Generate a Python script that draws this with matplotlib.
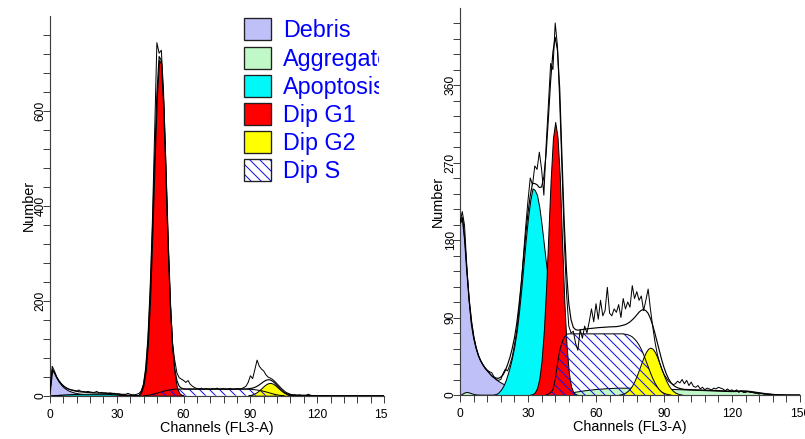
import numpy as np
import matplotlib.pyplot as plt
from matplotlib.patches import Patch
from matplotlib.legend_handler import HandlerTuple
from matplotlib.transforms import Bbox, TransformedBbox

plt.rcParams['font.family'] = ['Liberation Sans', 'DejaVu Sans']
plt.rcParams['hatch.linewidth'] = 0.6

# channel grid shared by both histograms
CHANNELS = np.arange(151)

# ---- left sample ----
left_data = [
    5, 62, 52, 40, 32, 26, 21, 17, 15, 13,
    12, 11, 10, 12, 9, 9, 8, 9, 8, 7,
    7, 9, 6, 7, 6, 6, 5, 6, 5, 5,
    4, 4, 3, 3, 3, 5, 3, 2, 2, 3,
    5, 10, 25, 60, 125, 230, 370, 560, 744, 722,
    728, 640, 490, 330, 200, 110, 75, 48, 38, 35,
    32, 28, 32, 24, 20, 17, 15, 14, 16, 13,
    15, 14, 13, 15, 14, 16, 13, 14, 15, 13,
    14, 15, 13, 14, 15, 14, 15, 17, 20, 28,
    42, 36, 55, 75, 62, 56, 52, 44, 39, 37,
    34, 30, 25, 20, 15, 11, 7, 5, 3, 2,
    2, 1, 2, 1, 1, 1, 3, 1, 0, 0,
] + [0] * 31

left_debris_start = 0
left_debris = [12, 55, 47, 37, 29, 23, 18, 14.5, 11.5, 9.5,
               8, 6.5, 5.5, 4.5, 4, 3.5, 3, 2.6, 2.3, 2,
               1.8, 1.7, 1.6, 1.5, 1.4, 1.3, 1.2, 1.1, 1, 0.9,
               0.8, 0.7, 0.6, 0.5, 0.4, 0.3, 0.3, 0.2, 0.1, 0.1, 0]
left_aggr_start = 95
left_aggr = [0, 0.2, 0.4, 0.6, 0.8, 0.9, 1, 1, 1, 1, 0.9, 0.9, 0.8, 0.8, 0.7,
             0.7, 0.6, 0.6, 0.5, 0.5, 0.5, 0.4, 0.4, 0.3, 0.3, 0.2, 0.2, 0.1, 0.1, 0]
left_apop_start = 0
left_apop = [0, 0.5, 1, 1.5, 2, 2.3, 2.6, 2.9, 3.1, 3.3,
             3.5, 3.6, 3.7, 3.8, 3.9, 3.9, 4, 4, 4, 4,
             4, 4, 4, 3.9, 3.9, 3.8, 3.8, 3.6, 3.3, 3,
             2.7, 2.3, 1.9, 1.5, 1.1, 0.8, 0.5, 0.3, 0.1, 0]
left_g1_start = 40
left_g1 = [0.5, 8, 22, 52, 111, 208, 342, 495, 631, 708, 699, 607, 465, 313,
           185, 97, 44, 18, 6, 2, 0.5]
left_g2_start = 89
left_g2 = [0.8, 1.6, 2.9, 5, 7.9, 11.6, 15.9, 20.3, 24, 26.4, 27, 25.6, 22.6,
           18.6, 14.2, 10.1, 6.6, 4.1, 2.3, 1.2, 0.6, 0.3]
left_s_start = 42
left_s = ([0.2, 0.5, 1, 1.8, 2.8, 4, 5.3, 6.7, 8, 9.3, 10.5, 11.6, 12.5, 13.2, 13.7]
          + [14] * 32
          + [13.8, 13.5, 13.1, 12.6, 12, 11.2, 10.3, 9.2, 8, 6.7, 5.3, 4, 2.8, 1.8, 1, 0.4, 0.1])

# ---- right sample ----
right_data = [
    200, 213, 197, 150, 110, 82, 66, 55, 47, 40,
    36, 32, 29, 27, 26, 21, 18, 17, 18, 25,
    30, 28, 35, 44, 58, 74, 98, 128, 162, 196,
    226, 252, 244, 266, 262, 282, 262, 232, 290, 338,
    385, 378, 432, 405, 340, 262, 180, 118, 80, 72,
    74, 60, 52, 76, 66, 80, 72, 85, 100, 85,
    106, 88, 110, 92, 98, 125, 95, 92, 100, 96,
    105, 90, 112, 100, 108, 102, 127, 112, 120, 110,
    115, 98, 110, 123, 100, 80, 62, 48, 38, 30,
    24, 20, 16, 14, 12, 13, 16, 14, 18, 13,
    17, 11, 15, 10, 9, 11, 7, 9, 6, 8,
    7, 6, 8, 7, 9, 8, 7, 5, 7, 5,
    6, 4, 6, 3, 5, 3, 3, 4, 3, 3,
    2, 2, 1, 2, 1, 1, 1, 1, 0, 0,
] + [0] * 11

right_debris_start = 0
right_debris = [200, 205, 178, 140, 108, 84, 67, 55, 46, 40,
                35, 31, 28, 25, 22, 20, 18, 16, 14.5, 13,
                12, 11, 10, 9.3, 8.6, 8, 7.4, 6.8, 6.3, 5.8,
                5.3, 4.9, 4.5, 4.1, 3.8, 3.5, 3.2, 2.9, 2.6, 2.3,
                2, 1.8, 1.6, 1.4, 1.2, 1, 0.8, 0.6, 0.4, 0.2, 0]
right_aggr_start = 0
right_aggr = ([0, 1.5, 3, 3.5, 3, 2, 1.2, 0.7, 0.5, 0.4]
              + [0.4] * 30
              + [0.4, 0.5, 0.7, 0.9, 1.2, 1.5, 1.9, 2.3, 2.7, 3.1,
                 3.5, 3.9, 4.3, 4.7, 5.1, 5.5, 5.8, 6.1, 6.4, 6.7,
                 7, 7.2, 7.4, 7.6, 7.8, 8, 8.1, 8.2, 8.3, 8.4]
              + [8.5] * 10
              + [8.4, 8.3, 8.2, 8.1, 8, 7.9, 7.8, 7.7, 7.6, 7.5,
                 7.4, 7.3, 7.2, 7.1, 7, 6.9, 6.8, 6.7, 6.6, 6.5,
                 6.4, 6.3, 6.2, 6.1, 6, 5.9, 5.8, 5.7, 5.6, 5.5,
                 5.4, 5.3, 5.2, 5.1, 5, 4.9, 4.8, 4.7, 4.6, 4.5,
                 4.5, 4.5, 4.6, 4.7, 4.8, 4.8, 4.7, 4.5, 4.2, 3.8,
                 3.4, 3, 2.6, 2.2, 1.8, 1.5, 1.2, 0.9, 0.7, 0.5,
                 0.4, 0.3, 0.2, 0.1, 0.05, 0])
right_apop_start = 15
right_apop = [0.5, 1.2, 3, 6, 10, 16, 24, 33, 44, 57,
              74, 96, 122, 151, 180, 206, 226, 240, 238, 232,
              218, 198, 175, 152, 130, 110, 92, 78, 62, 46,
              32, 20, 12, 6, 3, 1, 0]
right_g1_start = 31
right_g1 = [0.5, 1, 3, 8, 19, 40, 75, 125, 188, 250, 298, 317, 300, 255, 180,
            110, 58, 26, 10, 3, 1, 0]
right_g2_start = 70
right_g2 = [0.4, 0.85, 1.6, 2.8, 4.7, 7.4, 11.3, 16.4, 22.6, 29.7, 37, 44, 49.8,
            53.7, 55, 53.7, 49.8, 44, 37, 29.7, 22.6, 16.4, 11.3, 7.4, 4.7, 2.8,
            1.6, 0.85, 0.4]
right_s_start = 38
right_s = ([0.3, 1, 3, 6, 18, 36, 52, 61, 67, 70.5]
           + [71] * 25
           + [70.5, 70, 69, 67.5, 65, 62, 58, 53, 47, 40, 33, 26, 19.5, 14, 9.5,
              6, 3.5, 2, 1, 0.4, 0])

labels = ['Debris', 'Aggregates', 'Apoptosis', 'Dip G1', 'Dip G2', 'Dip S']
colors = ['#c0c0f8', '#c0f8c8', '#00f8f8', '#ff0000', '#ffff00']
hatch_blue = '#1010e8'
hatch = '\\\\\\\\'
plt.rcParams['hatch.color'] = hatch_blue


def on_grid(start, values):
    arr = np.zeros(len(CHANNELS))
    arr[start:start + len(values)] = values
    return arr


def fill_comp(ax, start, values, color):
    x = np.arange(start, start + len(values))
    ax.fill_between(x, 0, values, facecolor=color, edgecolor='black',
                    linewidth=0.6, zorder=2)


def draw_panel(ax, data, comps, s_comp):
    for (start, vals), color in zip(comps, colors):
        fill_comp(ax, start, vals, color)
    s_start, s_vals = s_comp
    xs = np.arange(s_start, s_start + len(s_vals))
    ax.fill_between(xs, 0, s_vals, facecolor='none', edgecolor=hatch_blue,
                    hatch=hatch, linewidth=0, zorder=3)
    ax.plot(xs, s_vals, color='black', lw=0.6, zorder=3)

    fit = on_grid(s_start, s_vals)
    for start, vals in comps:
        fit += on_grid(start, vals)
    ax.plot(CHANNELS, fit, color='black', lw=0.7, zorder=4)
    ax.plot(CHANNELS, data, color='black', lw=0.6, zorder=5)


def style_axes(ax, ymax, ymajor, yminor):
    ax.set_xlim(0, 150)
    ax.set_ylim(0, ymax)
    ax.set_xticks(range(0, 151, 30))
    ax.set_xticks(range(0, 151, 6), minor=True)
    ax.set_yticks(range(0, ymax, ymajor))
    ax.set_yticks(range(0, ymax, yminor), minor=True)
    for side in ['top', 'right']:
        ax.spines[side].set_visible(False)
    for side in ['left', 'bottom']:
        ax.spines[side].set_color('#404040')
        ax.spines[side].set_linewidth(0.7)
    ax.tick_params(which='both', length=4.2, width=0.6, color='#404040',
                   labelsize=7.2)
    ax.tick_params(axis='x', which='both', pad=3.5)
    ax.tick_params(axis='y', which='both', pad=-2.3, labelrotation=90)
    for lbl in ax.get_yticklabels():
        lbl.set_va('center')
    ax.set_xlabel('Channels (FL3-A)', fontsize=8.6, labelpad=0)
    ax.set_ylabel('Number', fontsize=8.6, va='center')
    ax.yaxis.set_label_coords(-0.064, 0.5)


fig = plt.figure(figsize=(805 / 120, 439 / 120), dpi=120)
ax1 = fig.add_axes([50 / 805, (439 - 395.7) / 439, 334 / 805, 379.6 / 439])
ax2 = fig.add_axes([460 / 805, (439 - 395) / 439, 340 / 805, 387.5 / 439])

draw_panel(ax1, left_data,
           [(left_debris_start, left_debris), (left_aggr_start, left_aggr),
            (left_apop_start, left_apop), (left_g1_start, left_g1),
            (left_g2_start, left_g2)],
           (left_s_start, left_s))
draw_panel(ax2, right_data,
           [(right_debris_start, right_debris), (right_aggr_start, right_aggr),
            (right_apop_start, right_apop), (right_g1_start, right_g1),
            (right_g2_start, right_g2)],
           (right_s_start, right_s))

style_axes(ax1, 800, 200, 40)
style_axes(ax2, 450, 90, 18)

# legend on the left panel
handles = [Patch(facecolor=c, edgecolor='#202020', linewidth=0.8) for c in colors]
handles.append((Patch(facecolor='white', edgecolor=hatch_blue, hatch=hatch, linewidth=0),
                Patch(facecolor='none', edgecolor='#202020', linewidth=0.8)))
leg = ax1.legend(handles, labels, handler_map={tuple: HandlerTuple(ndivide=1)},
                 loc='upper left', bbox_to_anchor=(244 / 805, 1 - 18.5 / 439),
                 bbox_transform=fig.transFigure, frameon=False, fontsize=14,
                 handlelength=1.15, handleheight=1.07, handletextpad=0.54,
                 labelspacing=0.18, borderpad=0, borderaxespad=0,
                 labelcolor='#0000ff')

# the left panel is cut off at its right edge
leg_clip = TransformedBbox(Bbox([[0, 0], [379 / 805, 1]]), fig.transFigure)
for t in leg.get_texts():
    t.set_clip_box(leg_clip)
    t.set_clip_on(True)
tick_clip = TransformedBbox(Bbox([[0, 0], [388 / 805, 1]]), fig.transFigure)
for tick in ax1.xaxis.get_major_ticks():
    tick.label1.set_clip_box(tick_clip)
    tick.label1.set_clip_on(True)

fig.savefig('out.png', dpi=120)
